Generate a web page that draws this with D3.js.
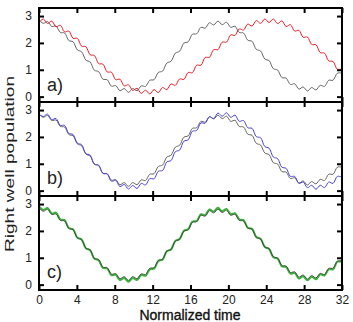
<!DOCTYPE html>
<html><head><meta charset="utf-8">
<script src="https://cdn.jsdelivr.net/npm/d3@7"></script>
<style>
body{margin:0;background:#fff}
svg{display:block}
text{font-family:"Liberation Sans",Arial,Helvetica,sans-serif}
</style>
</head><body>
<svg id="chart" width="353" height="322"></svg>
<script>
// ---- data ----
const time = [0,0.45,0.9,1.35,1.8,2.25,2.7,3.15,3.6,4.05,4.5,4.95,5.4,5.85,6.3,6.75,7.2,7.65,8.1,8.55,9,9.45,9.9,10.35,10.8,11.25,11.7,12.15,12.6,13.05,13.5,13.95,14.4,14.85,15.3,15.75,16.2,16.65,17.1,17.55,18,18.45,18.9,19.35,19.8,20.25,20.7,21.15,21.6,22.05,22.5,22.95,23.4,23.85,24.3,24.75,25.2,25.65,26.1,26.55,27,27.45,27.9,28.35,28.8,29.25,29.7,30.15,30.6,31.05,31.5,31.95,32.4];

// black reference curve (same in all three panels)
const reference = [2.86,2.73,2.80,2.61,2.63,2.39,2.37,2.09,2.04,1.74,
1.67,1.36,1.29,0.98,0.93,0.65,0.63,0.39,0.41,0.22,
0.30,0.16,0.30,0.22,0.40,0.38,0.61,0.63,0.90,0.95,
1.25,1.32,1.62,1.69,1.99,2.04,2.32,2.34,2.58,2.55,
2.75,2.67,2.81,2.68,2.77,2.58,2.62,2.39,2.37,2.10,
2.06,1.76,1.70,1.40,1.34,1.04,0.99,0.71,0.69,0.45,
0.48,0.28,0.36,0.21,0.34,0.25,0.42,0.38,0.61,0.61,
0.87,0.90,1.19];

// panel a) red curve
const seriesA = [2.76,2.89,2.72,2.81,2.60,2.66,2.41,2.44,2.17,2.17,
1.88,1.86,1.56,1.53,1.23,1.21,0.92,0.91,0.63,0.65,
0.40,0.44,0.23,0.31,0.12,0.24,0.10,0.26,0.15,0.34,
0.26,0.47,0.42,0.66,0.64,0.90,0.89,1.17,1.17,1.46,
1.46,1.75,1.75,2.03,2.03,2.30,2.28,2.52,2.48,2.70,
2.63,2.83,2.73,2.89,2.76,2.89,2.72,2.82,2.61,2.68,
2.44,2.47,2.21,2.22,1.94,1.93,1.64,1.62,1.33,1.31,
1.02,1.01,0.74];

// panel b) blue curve
const seriesB = [2.84,2.76,2.85,2.64,2.69,2.43,2.43,2.13,2.09,1.77,
1.71,1.38,1.32,0.99,0.95,0.64,0.62,0.35,0.38,0.15,
0.23,0.06,0.19,0.08,0.27,0.21,0.45,0.44,0.72,0.75,
1.07,1.12,1.45,1.51,1.84,1.89,2.21,2.24,2.52,2.51,
2.75,2.69,2.89,2.77,2.90,2.73,2.81,2.58,2.61,2.34,
2.32,2.01,1.97,1.64,1.58,1.25,1.19,0.87,0.83,0.53,
0.53,0.27,0.32,0.11,0.20,0.05,0.20,0.11,0.32,0.27,
0.53,0.53,0.83];

// panel c) green curve
const seriesC = [2.91,2.78,2.85,2.65,2.68,2.43,2.40,2.11,2.06,1.75,
1.68,1.35,1.28,0.96,0.91,0.62,0.60,0.35,0.37,0.17,
0.25,0.11,0.25,0.17,0.36,0.33,0.57,0.59,0.88,0.93,
1.24,1.31,1.63,1.70,2.01,2.06,2.35,2.37,2.62,2.59,
2.80,2.72,2.86,2.73,2.82,2.62,2.66,2.43,2.40,2.12,
2.08,1.77,1.71,1.40,1.33,1.02,0.97,0.68,0.66,0.41,
0.44,0.23,0.31,0.16,0.29,0.20,0.38,0.34,0.57,0.57,
0.85,0.88,1.18];

const panelLabels = ["a)","b)","c)"];
const xTickValues = [0,4,8,12,16,20,24,28,32];
const yTickValues = [0,1,2,3];
const xTitle = "Normalized time";
const yTitle = "Right well population";

// ---- layout ----
const svg = d3.select("#chart");
const left = 39, right = 342;
const panelTop = [8,102,196], panelH = 94;
const x = d3.scaleLinear().domain([0,32]).range([left,right]);

const panels = [
  {label: panelLabels[0], lines: [
     {data: reference, color: "#555", width: 0.9},
     {data: seriesA, color: "#ee1c24", width: 1.0}]},
  {label: panelLabels[1], lines: [
     {data: reference, color: "#555", width: 0.9},
     {data: seriesB, color: "#4a44dc", width: 1.0}]},
  {label: panelLabels[2], lines: [
     {data: seriesC, color: "#3cb23c", width: 2.0},
     {data: reference, color: "#3a3a3a", width: 0.8}]}
];

const defs = svg.append("defs");

panels.forEach((p, k) => {
  const top = panelTop[k], bot = top + panelH;
  const y = d3.scaleLinear().domain([-0.2,3.3]).range([bot, top]);
  const g = svg.append("g");

  defs.append("clipPath").attr("id","clip"+k)
    .append("rect").attr("x",left).attr("y",top).attr("width",right-left).attr("height",panelH);

  const line = d3.line()
    .x((d,i) => x(time[i]))
    .y(d => y(d))
    .curve(d3.curveCatmullRom.alpha(0.5));

  const lg = g.append("g").attr("clip-path","url(#clip"+k+")");
  p.lines.forEach(s => {
    lg.append("path").attr("d", line(s.data))
      .attr("fill","none").attr("stroke", s.color)
      .attr("stroke-width", s.width).attr("stroke-linejoin","round");
  });

  // axes (ticks inward)
  const axB = g.append("g").attr("transform",`translate(0,${bot})`)
    .call(d3.axisBottom(x).tickValues(xTickValues).tickSize(-5).tickPadding(5)
      .tickFormat(k===2 ? d3.format("d") : ""));
  const axT = g.append("g").attr("transform",`translate(0,${top})`)
    .call(d3.axisTop(x).tickValues(xTickValues).tickSize(-5).tickFormat(""));
  const axL = g.append("g").attr("transform",`translate(${left},0)`)
    .call(d3.axisLeft(y).tickValues(yTickValues).tickSize(-5).tickPadding(7).tickFormat(d3.format("d")));
  const axR = g.append("g").attr("transform",`translate(${right},0)`)
    .call(d3.axisRight(y).tickValues(yTickValues).tickSize(-5).tickFormat(""));
  [axB,axT,axL,axR].forEach(a => {
    a.select(".domain").remove();
    a.selectAll(".tick line").attr("stroke","#000").attr("stroke-width",2);
    a.selectAll(".tick text").attr("font-size",12).attr("fill","#222")
      .attr("font-family",'"Liberation Sans",Arial,sans-serif');
  });

  g.append("rect").attr("x",left).attr("y",top).attr("width",right-left).attr("height",panelH)
    .attr("fill","none").attr("stroke","#000").attr("stroke-width",2);

  g.append("text").attr("x",47).attr("y",[91,184,278][k])
    .attr("font-size",18).attr("fill","#222").text(p.label);
});

svg.append("text").attr("x",190).attr("y",320).attr("text-anchor","middle")
  .attr("font-size",14).attr("fill","#111").attr("stroke","#111").attr("stroke-width",0.35)
  .text(xTitle);

svg.append("text").attr("transform","translate(14,164) rotate(-90)")
  .attr("text-anchor","middle").attr("font-size",13).attr("fill","#222")
  .attr("textLength",176).attr("lengthAdjust","spacingAndGlyphs")
  .text(yTitle);
</script>
</body></html>
